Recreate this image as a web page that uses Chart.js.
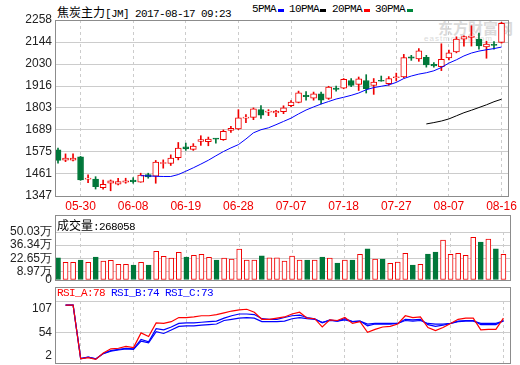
<!DOCTYPE html>
<html>
<head>
<meta charset="utf-8">
<title>焦炭主力[JM]</title>
<script src="https://cdn.jsdelivr.net/npm/chart.js@4/dist/chart.umd.min.js"></script>
<style>
  body { margin: 0; background: #fff; }
  #wrap { position: relative; width: 520px; height: 365px; overflow: hidden; background: #fff; }
  canvas { position: absolute; left: 0; }
  .t { position: absolute; height: 14px; line-height: 14px; white-space: nowrap; font: 11px "Liberation Mono", monospace; letter-spacing: -0.6px; color: #000; }
  .cjk { font: 12px "Noto Sans CJK SC", sans-serif; letter-spacing: 0; }
  .sw { position: absolute; top: 9px; width: 6px; height: 3px; }
  .wm { position: absolute; color: #dadada; white-space: nowrap; }
</style>
</head>
<body>
<div id="wrap">
  <div class="wm" style="left:438px;top:17px;font:bold 15px 'Noto Sans CJK SC'">东方财富网</div>
  <div class="wm" style="left:424px;top:34px;font:8px 'Liberation Sans';letter-spacing:1px">eastmoney.com</div>

  <div class="t" style="left:57px;top:3px"><span class="cjk">焦炭主力</span>[JM] 2017-08-17 09:23</div>
  <div class="t" style="left:252px;top:3px">5PMA</div><div class="sw" style="left:278px;background:#0000ff"></div>
  <div class="t" style="left:289px;top:3px">10PMA</div><div class="sw" style="left:320px;background:#000"></div>
  <div class="t" style="left:332px;top:3px">20PMA</div><div class="sw" style="left:364px;background:#ff0000"></div>
  <div class="t" style="left:375px;top:3px">30PMA</div><div class="sw" style="left:407px;background:#00873c"></div>

  <canvas id="main" width="520" height="215" style="top:0"></canvas>
  <canvas id="vol" width="520" height="72" style="top:214px"></canvas>
  <canvas id="rsi" width="520" height="81" style="top:284px"></canvas>

  <div class="t" style="left:57px;top:216px"><span class="cjk">成交量</span>:268058</div>
  <div class="t" style="left:57px;top:287px"><span style="color:#ff0000">RSI_A:78</span> <span style="color:#0000ff">RSI_B:74 RSI_C:73</span></div>
</div>
<script>
const RED = '#f00000', GREEN = '#00773a', GRID = '#cccccc', FRAME = '#8c8c8c';
Chart.defaults.font.family = '"Liberation Sans", sans-serif';
Chart.defaults.font.size = 12;
Chart.defaults.color = '#222';

// trading days
const dates = ['05-24','05-25','05-26','05-30','05-31','06-01','06-02','06-05','06-06','06-07',
  '06-08','06-09','06-12','06-13','06-14','06-15','06-16','06-19','06-20','06-21',
  '06-22','06-23','06-26','06-27','06-28','06-29','06-30','07-03','07-04','07-05',
  '07-06','07-07','07-10','07-11','07-12','07-13','07-14','07-17','07-18','07-19',
  '07-20','07-21','07-24','07-25','07-26','07-27','07-28','07-31','08-01','08-02',
  '08-03','08-04','08-07','08-08','08-09','08-10','08-11','08-14','08-15','08-16'];
const labeledDates = ['05-30','06-08','06-19','06-28','07-07','07-18','07-27','08-07','08-16'];

// candles
const open  = [1586,1533,1533,1550,1434,1435,1390,1413,1408,1418,1430,1418,1458,1449,1515,1515,1546,1602,1588,1629,
               1628,1644,1638,1687,1694,1750,1754,1794,1781,1777,1784,1814,1832,1868,1853,1876,1852,1905,1905,1945,
               1925,1945,1919,1945,1929,1959,1964,2067,2057,2065,2028,2016,2062,2093,2159,2168,2159,2119,2132,2142];
const high  = [1595,1565,1565,1552,1456,1447,1430,1430,1439,1439,1442,1465,1465,1531,1534,1560,1624,1621,1618,1659,
               1652,1644,1689,1708,1794,1768,1803,1815,1794,1791,1814,1841,1890,1887,1885,1885,1915,1916,1955,1955,
               1963,1975,1955,1968,1965,1983,2080,2075,2110,2075,2038,2135,2102,2171,2176,2228,2190,2148,2146,2246];
const low   = [1517,1525,1528,1428,1416,1383,1383,1374,1404,1413,1413,1418,1439,1413,1491,1505,1534,1583,1583,1609,
               1607,1621,1635,1676,1690,1727,1742,1748,1763,1757,1773,1809,1829,1843,1843,1824,1847,1890,1902,1913,
               1893,1880,1873,1941,1920,1943,1959,2049,2044,2014,2014,1996,2052,2088,2123,2123,2107,2060,2107,2138];
const close = [1531,1543,1543,1430,1439,1395,1408,1425,1421,1426,1421,1455,1446,1522,1520,1543,1595,1591,1606,1639,
               1642,1641,1682,1697,1751,1755,1798,1765,1786,1786,1803,1833,1881,1861,1876,1843,1911,1899,1951,1920,
               1954,1902,1937,1941,1955,1964,2063,2060,2098,2025,2020,2054,2088,2159,2172,2175,2124,2134,2127,2241];

// moving-average lines
const maBlue = [null,null,null,null,null,null,null,null,null,null,null,1452,1451,1449,1448,1448,1458,1475,1493,1512,
                1532,1555,1577,1596,1613,1642,1674,1690,1700,1716,1733,1750,1772,1792,1808,1823,1836,1849,1858,1868,
                1880,1897,1908,1915,1922,1935,1955,1968,1978,1985,1995,2012,2035,2052,2072,2087,2097,2104,2110,2118];
const maBlack = [null,null,null,null,null,null,null,null,null,null,null,null,null,null,null,null,null,null,null,null,
                 null,null,null,null,null,null,null,null,null,null,null,null,null,null,null,null,null,null,null,null,
                 null,null,null,null,null,null,null,null,null,1720,1727,1735,1746,1762,1778,1791,1805,1819,1835,1848];

// volume (万)
const volume = [23.2,18.4,18.4,20.8,18.4,24.0,19.8,20.5,16.4,16.4,15.6,18.4,15.6,29.9,24.7,22.9,28.9,24.0,25.7,26.8,
                23.6,20.8,22.9,21.9,32.3,20.8,20.8,25.3,23.2,23.2,19.8,25.0,20.8,20.8,20.8,24.0,22.9,17.7,20.8,20.8,
                26.8,32.6,21.9,21.9,17.4,18.8,27.8,15.6,16.4,27.1,29.2,41.7,26.8,27.8,25.7,44.5,39.6,42.7,32.6,26.8];

// RSI
const rsiA = [null,100,100,9,11,8,19,26,27,30,28,53,47,70,69,72,79,79,80,82,82,84,87,90,92,93,88,76,76,78,
              80,85,88,78,77,63,75,74,79,69,72,54,59,63,64,68,82,79,80,62,57,62,69,76,78,78,58,59,59,78];
const rsiB = [null,100,100,9,12,9,18,23,25,27,26,42,38,60,58,63,69,70,70,71,72,73,78,82,85,85,84,77,76,76,
              79,82,83,79,77,70,75,73,77,72,73,65,68,68,68,69,76,75,76,67,64,66,69,73,74,74,67,67,67,74];
const rsiC = [null,100,100,10,12,9,18,22,24,26,25,39,36,55,52,58,64,65,65,66,67,68,74,76,78,79,78,72,72,72,
              73,77,79,77,76,71,74,73,75,72,73,68,69,69,69,69,74,73,74,69,68,68,69,72,73,73,69,69,69,73];

const priceTicks = [1347,1461,1575,1689,1803,1916,2030,2144,2258];
const volTicks = [0,8.97,22.65,36.34,50.03];
const rsiTicks = [2,54,107];

const tickIdx = labeledDates.map(d => dates.indexOf(d));
const up = close.map((c, i) => c >= open[i]);
const pts = arr => arr.map((v, i) => v == null ? null : { x: i, y: v }).filter(p => p);

// frame around each panel, including its header strip
const panelBox = {
  id: 'panelBox',
  afterDraw(chart, args, opts) {
    const a = chart.chartArea, ctx = chart.ctx;
    const top = Math.round(a.top - (opts.header || 0)) + 0.5;
    ctx.save();
    ctx.strokeStyle = FRAME;
    ctx.lineWidth = 1;
    ctx.strokeRect(Math.round(a.left) + 0.5, top, Math.round(a.right - a.left), Math.round(a.bottom) + 0.5 - top);
    ctx.restore();
  }
};

function xAxis(showLabels, h) {
  return {
    type: 'linear', min: -0.4, max: 59.87, offset: false,
    afterBuildTicks: s => { s.ticks = tickIdx.map(v => ({ value: v })); },
    afterFit: s => { s.height = h; },
    ticks: { display: showLabels, autoSkip: false, maxRotation: 0, padding: 3, color: RED, callback: v => dates[v] },
    grid: { color: GRID, drawTicks: false, offset: false },
    border: { display: false, dash: [3, 3] }
  };
}
function yAxis(min, max, ticks, fmt) {
  return {
    min, max, beginAtZero: false,
    afterBuildTicks: s => { s.ticks = ticks.map(v => ({ value: v })); },
    afterFit: s => { s.width = 55; s.paddingTop = 0; s.paddingBottom = 0; },
    ticks: { padding: 3, color: '#222', autoSkip: false, callback: fmt },
    grid: { color: GRID, drawTicks: false },
    border: { display: false }
  };
}
function baseOptions(padding, header) {
  return {
    responsive: false, animation: false, devicePixelRatio: 1, events: [],
    layout: { padding },
    plugins: { legend: { display: false }, tooltip: { enabled: false }, panelBox: { header } }
  };
}

const mainOpts = baseOptions({ top: 20, right: 10, left: 0, bottom: 0 }, 0);
mainOpts.scales = { x: xAxis(true, 19), y: yAxis(1347, 2258, priceTicks, v => String(v)) };
new Chart(document.getElementById('main'), {
  type: 'bar',
  data: {
    datasets: [
      { type: 'line', data: pts(maBlue), borderColor: '#0000ff', borderWidth: 1, pointRadius: 0, order: 0 },
      { type: 'line', data: pts(maBlack), borderColor: '#000000', borderWidth: 1, pointRadius: 0, order: 0 },
      { data: open.map((o, i) => ({ x: i, y: [o, close[i]] })),
        backgroundColor: up.map(u => u ? '#ffffff' : GREEN), borderColor: up.map(u => u ? RED : GREEN),
        borderWidth: 1, borderSkipped: false, barThickness: 6, minBarLength: 1, grouped: false, order: 1 },
      { data: low.map((l, i) => ({ x: i, y: [l, high[i]] })),
        backgroundColor: up.map(u => u ? RED : GREEN), barThickness: 1, grouped: false, order: 2 }
    ]
  },
  options: mainOpts,
  plugins: [panelBox]
});

const volOpts = baseOptions({ top: 18, right: 10, left: 0, bottom: 6 }, 17);
volOpts.scales = { x: xAxis(false, 0), y: yAxis(0, 50.03, volTicks, v => v === 0 ? '0' : v.toFixed(2) + '万') };
new Chart(document.getElementById('vol'), {
  type: 'bar',
  data: {
    datasets: [{
      data: volume.map((v, i) => ({ x: i, y: v })),
      backgroundColor: up.map(u => u ? '#ffffff' : GREEN), borderColor: up.map(u => u ? RED : GREEN),
      borderWidth: 1, borderSkipped: false, barThickness: 5, grouped: false
    }]
  },
  options: volOpts,
  plugins: [panelBox]
});

const rsiOpts = baseOptions({ top: 17, right: 10, left: 0, bottom: 2 }, 14);
rsiOpts.scales = {
  x: xAxis(false, 0),
  y: yAxis(2, 107, rsiTicks, v => v === 107 ? ['', '107'] : v === 2 ? ['2', ''] : String(v))
};
new Chart(document.getElementById('rsi'), {
  type: 'line',
  data: {
    datasets: [
      { data: pts(rsiA), borderColor: '#ff0000', borderWidth: 1.2, pointRadius: 0 },
      { data: pts(rsiB), borderColor: '#0000ff', borderWidth: 1.2, pointRadius: 0 },
      { data: pts(rsiC), borderColor: '#0000ff', borderWidth: 1.2, pointRadius: 0 }
    ]
  },
  options: rsiOpts,
  plugins: [panelBox]
});
</script>
</body>
</html>
